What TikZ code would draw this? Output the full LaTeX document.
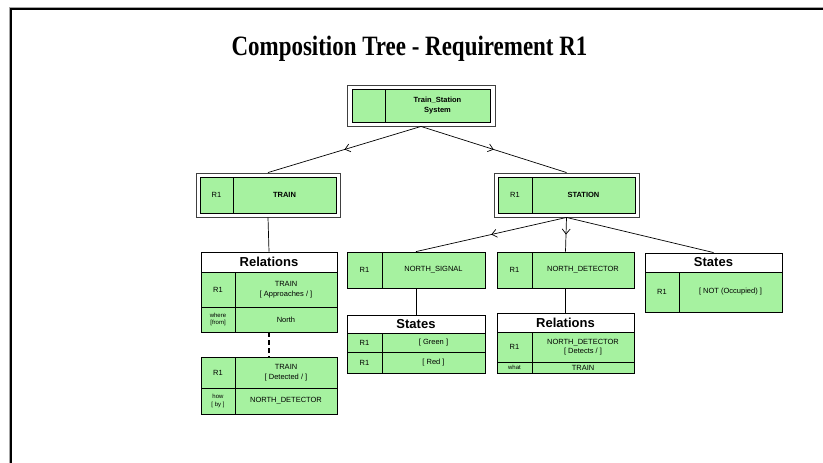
\documentclass[tikz,border=0pt]{standalone}
\usepackage{fontspec}
\setmainfont{Liberation Sans}
\newfontfamily\titlefont{Liberation Serif}
\usetikzlibrary{arrows.meta,decorations.markings,calc}
\definecolor{cellgreen}{RGB}{166,242,160}
\begin{document}
\begin{tikzpicture}[x=1pt,y=-1pt]
\tikzset{
  cell/.style={draw=black, fill=cellgreen, line width=0.8pt, inner sep=0pt, align=center,
    font=\fontsize{7.5}{9.5}\selectfont},
  bold/.style={font=\bfseries\fontsize{7.5}{9.5}\selectfont},
  tiny/.style={font=\fontsize{6}{7.5}\selectfont},
  outerbox/.style={draw=black!75, line width=0.9pt, fill=white, inner sep=0pt},
  header/.style={draw=black, fill=white, line width=0.9pt, inner sep=0pt,
    font=\bfseries\fontsize{13}{14}\selectfont},
  link/.style={draw=black, line width=0.7pt},
  flow/.style={link, postaction={decorate}, decoration={markings,
    mark=at position 0.5 with {\arrow{Straight Barb[length=5pt,width=8pt,line width=0.7pt]}}}},
  dotlink/.style={draw=black, line width=2.2pt, dash pattern=on 5pt off 3pt},
}
\useasboundingbox (0,0) rectangle (823,463);
% page frame
\draw[black!35, line width=0.8pt] (9.3,463) -- (9.3,7.4) -- (823,7.4);
\draw[black, line width=2pt] (11,463) -- (11,9.3) -- (823,9.3);
% title
\node[anchor=base, inner sep=0pt, font=\titlefont\bfseries\fontsize{28}{30}\selectfont] (title)
  at (409.5,55) {\scalebox{0.82}[1]{Composition Tree - Requirement R1}};

% root component
\node[outerbox, minimum width=148pt, minimum height=41pt] (root) at (421,105.5) {};
\node[cell, minimum width=33pt, minimum height=33pt] (rootR) at (368.5,105.5) {};
\node[cell, bold, minimum width=105pt, minimum height=33pt] (rootN) at (437.5,105.5) {Train\_Station\\System};

% TRAIN component
\node[outerbox, minimum width=144pt, minimum height=44pt] (train) at (268,195) {};
\node[cell, minimum width=33pt, minimum height=36pt] (trainR) at (216.5,195) {R1};
\node[cell, bold, minimum width=103pt, minimum height=36pt] (trainN) at (284.5,195) {TRAIN};

% STATION component
\node[outerbox, minimum width=145pt, minimum height=44pt] (station) at (566.5,195) {};
\node[cell, minimum width=34pt, minimum height=36pt] (stationR) at (515,195) {R1};
\node[cell, bold, minimum width=103pt, minimum height=36pt] (stationN) at (583.5,195) {STATION};

% TRAIN relations
\node[header, minimum width=136pt, minimum height=20pt] (relH) at (269,262) {Relations};
\node[cell, minimum width=34pt, minimum height=35pt] (relR1) at (218,289.5) {R1};
\node[cell, minimum width=102pt, minimum height=35pt] (relT1) at (286,289.5) {TRAIN\\{}[ Approaches / ]};
\node[cell, tiny, minimum width=34pt, minimum height=25pt] (relR2) at (218,319.5) {where\\{}[from]};
\node[cell, minimum width=102pt, minimum height=25pt] (relT2) at (286,319.5) {North};

% detected relation
\node[cell, minimum width=34pt, minimum height=31pt] (detR1) at (218,372.5) {R1};
\node[cell, minimum width=102pt, minimum height=31pt] (detT1) at (286,372.5) {TRAIN\\{}[ Detected / ]};
\node[cell, tiny, minimum width=34pt, minimum height=26pt] (detR2) at (218,401) {how\\{}[ by ]};
\node[cell, minimum width=102pt, minimum height=26pt] (detT2) at (286,401) {NORTH\_DETECTOR};

% NORTH_SIGNAL and its states
\node[cell, minimum width=35pt, minimum height=36pt] (nsR) at (364.5,270) {R1};
\node[cell, minimum width=103pt, minimum height=36pt] (nsN) at (433.5,270) {NORTH\_SIGNAL};
\node[header, minimum width=138pt, minimum height=18pt] (nsH) at (416,324) {States};
\node[cell, minimum width=35pt, minimum height=19pt] (nsS1R) at (364.5,342.5) {R1};
\node[cell, minimum width=103pt, minimum height=19pt] (nsS1) at (433.5,342.5) {[ Green ]};
\node[cell, minimum width=35pt, minimum height=21pt] (nsS2R) at (364.5,362.5) {R1};
\node[cell, minimum width=103pt, minimum height=21pt] (nsS2) at (433.5,362.5) {[ Red ]};

% NORTH_DETECTOR and its relations
\node[cell, minimum width=35pt, minimum height=36pt] (ndR) at (514.5,270) {R1};
\node[cell, minimum width=102pt, minimum height=36pt] (ndN) at (583,270) {NORTH\_DETECTOR};
\node[header, minimum width=137pt, minimum height=19pt] (ndH) at (565.5,322.5) {Relations};
\node[cell, minimum width=35pt, minimum height=30pt] (ndR1) at (514.5,347) {R1};
\node[cell, minimum width=102pt, minimum height=30pt] (ndT1) at (583,347) {NORTH\_DETECTOR\\{}[ Detects / ]};
\node[cell, tiny, minimum width=35pt, minimum height=11pt] (ndR2) at (514.5,367.5) {what};
\node[cell, minimum width=102pt, minimum height=11pt] (ndT2) at (583,367.5) {TRAIN};

% STATION states
\node[header, minimum width=137pt, minimum height=19pt] (stH) at (713.5,262.5) {States};
\node[cell, minimum width=34pt, minimum height=40pt] (stR) at (662,292) {R1};
\node[cell, minimum width=103pt, minimum height=40pt] (stS) at (730.5,292) {[ NOT (Occupied) ]};

% connectors
\draw[flow] (root.south) -- (train.north);
\draw[flow] (root.south) -- (station.north);
\draw[link] (train.south) -- (relH.north);
\draw[flow] (station.south) -- ($(nsR.north west)!.5!(nsN.north east)$);
\draw[flow] (station.south) -- ($(ndR.north west)!.5!(ndN.north east)$);
\draw[link] (station.south) -- (stH.north);
\draw[link] ($(nsR.south west)!.5!(nsN.south east)$) -- (nsH.north);
\draw[link] ($(ndR.south west)!.5!(ndN.south east)$) -- (ndH.north);
\draw[dotlink] ($(relR2.south west)!.5!(relT2.south east)$) -- ($(detR1.north west)!.5!(detT1.north east)$);
\end{tikzpicture}
\end{document}
